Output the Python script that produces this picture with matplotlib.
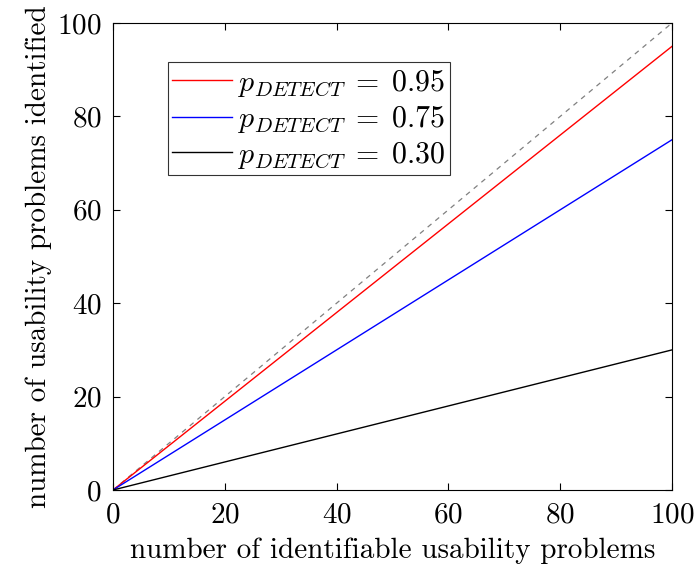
import matplotlib
matplotlib.use("Agg")
import matplotlib.pyplot as plt

plt.rcParams['font.family'] = ['cmr10', 'DejaVu Serif']
plt.rcParams['mathtext.fontset'] = 'cm'
plt.rcParams['axes.formatter.use_mathtext'] = True

x_vals = [0, 100]
p_values = [0.95, 0.75, 0.30]
labels = [r'$p_{DETECT}\;=\;0.95$', r'$p_{DETECT}\;=\;0.75$', r'$p_{DETECT}\;=\;0.30$']
colors = ['red', 'blue', 'black']
ticks = [0, 20, 40, 60, 80, 100]

W, H = 695, 567
fig = plt.figure(figsize=(W/100, H/100), dpi=100)
ax = fig.add_axes([113/W, 1-490/H, (672-113)/W, (490-23)/H])

ax.plot(x_vals, x_vals, color='gray', linestyle=(0, (4, 4)), linewidth=0.9)
for p, lab, c in zip(p_values, labels, colors):
    ax.plot(x_vals, [p*v for v in x_vals], color=c, linewidth=1.0, label=lab)

ax.set_xlim(0, 100)
ax.set_ylim(0, 100)
ax.set_xticks(ticks)
ax.set_yticks(ticks)
ax.tick_params(direction='in', top=True, right=True, length=5, width=0.8, labelsize=21)
ax.tick_params(axis='x', pad=9)
ax.tick_params(axis='y', pad=8)
for s in ax.spines.values():
    s.set_linewidth(0.8)
ax.set_xlabel('number of identifiable usability problems', fontsize=21, labelpad=6)
ax.set_ylabel('number of usability problems identified', fontsize=21, labelpad=4)

leg = ax.legend(loc='upper left', bbox_to_anchor=(0.098, 0.916), fontsize=21.5, frameon=True,
                fancybox=False, edgecolor='black', handlelength=2.0, handletextpad=0.2,
                borderpad=0.15, labelspacing=0.15, borderaxespad=0)
leg.get_frame().set_linewidth(0.8)

fig.savefig('out.png', dpi=100)
